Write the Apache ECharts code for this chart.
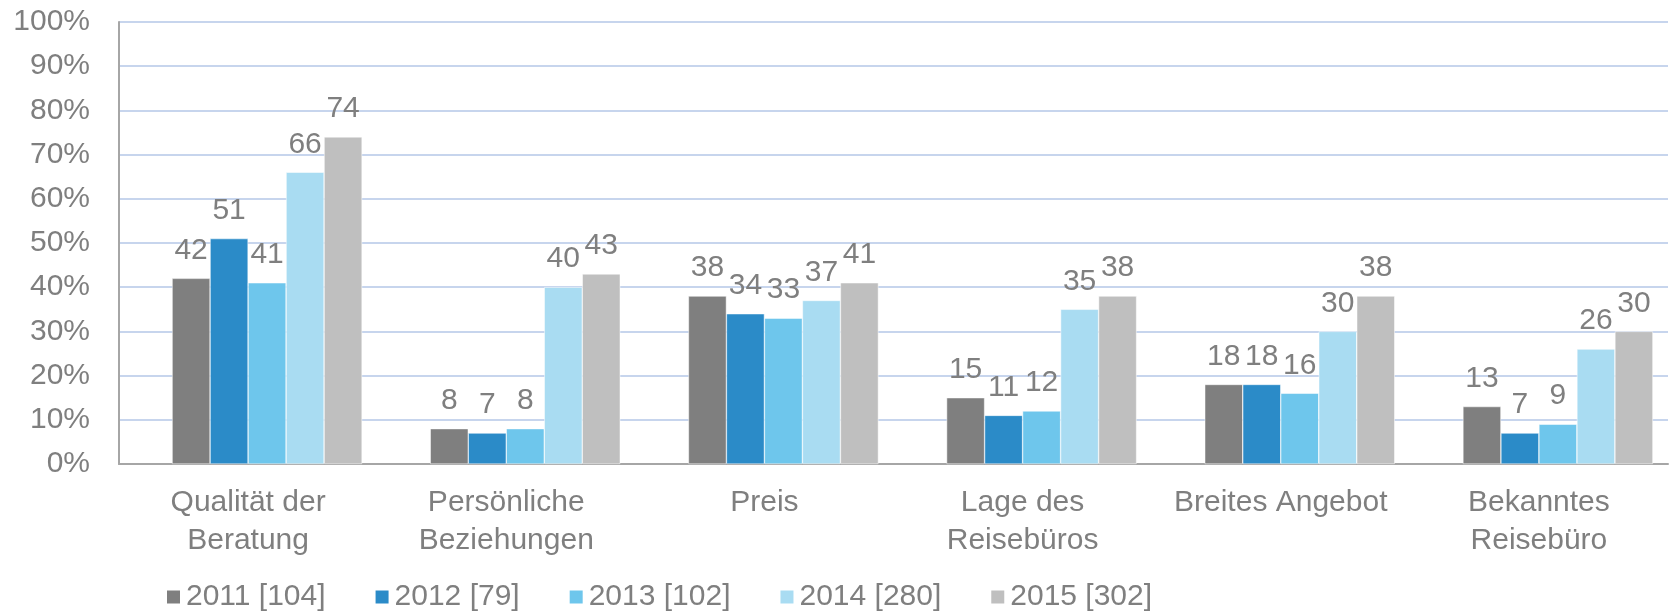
<!DOCTYPE html>
<html lang="de">
<head>
<meta charset="utf-8" />
<title>Gründe Reisebüro</title>
<script src="https://cdn.jsdelivr.net/npm/echarts@6/dist/echarts.min.js"></script>
<style>
  html, body { margin: 0; padding: 0; background: #fff; }
  #main { width: 1671px; height: 612px; }
</style>
</head>
<body>
<div id="main"></div>
<script>
  const categories = ['Qualität der\nBeratung', 'Persönliche\nBeziehungen', 'Preis', 'Lage des\nReisebüros', 'Breites Angebot', 'Bekanntes\nReisebüro'];
  const seriesNames = ['2011 [104]', '2012 [79]', '2013 [102]', '2014 [280]', '2015 [302]'];
  const v2011 = [42, 8, 38, 15, 18, 13];
  const v2012 = [51, 7, 34, 11, 18, 7];
  const v2013 = [41, 8, 33, 12, 16, 9];
  const v2014 = [66, 40, 37, 35, 30, 26];
  const v2015 = [74, 43, 41, 38, 38, 30];
  const colors = ['#7f7f7f', '#2b8bc8', '#6ec6ec', '#a9dcf2', '#bfbfbf'];

  const allValues = [v2011, v2012, v2013, v2014, v2015];
  const font = "'Liberation Sans', Arial, sans-serif";
  const grey = '#7f7f7f';

  // the original chart leaves an empty slot before the first year in every group
  const spacer = { name: 'spacer', type: 'bar', data: [], barWidth: 38, barGap: '0%', silent: true };

  let chart = echarts.init(document.getElementById('main'));
  let option = {
    animation: false,
    color: ['#ffffff'].concat(colors),
    textStyle: { fontFamily: font },
    grid: { left: 119, right: 3, top: 22, bottom: 148 },
    legend: {
      left: 160,
      top: 577,
      itemWidth: 15,
      itemHeight: 15,
      itemGap: 48,
      icon: 'rect',
      textStyle: { fontSize: 30, color: grey, fontFamily: font },
      data: seriesNames
    },
    xAxis: {
      type: 'category',
      data: categories,
      axisLine: { lineStyle: { color: '#a6a6a6', width: 2 } },
      axisTick: { show: false },
      axisLabel: { fontSize: 30, color: grey, lineHeight: 38, margin: 20, interval: 0 }
    },
    yAxis: {
      type: 'value',
      min: 0,
      max: 100,
      interval: 10,
      axisLine: { show: true, lineStyle: { color: '#a6a6a6', width: 2 } },
      axisTick: { show: false },
      axisLabel: { fontSize: 30, color: grey, margin: 29, formatter: '{value}%' },
      splitLine: { lineStyle: { color: '#b4c7e7', width: 1.5 } }
    },
    series: [spacer].concat(allValues.map((vals, i) => ({
      name: seriesNames[i],
      type: 'bar',
      data: vals,
      barWidth: 38,
      barGap: '0%',
      itemStyle: { borderColor: '#ffffff', borderWidth: 0.5 },
      label: { show: true, position: 'top', distance: 13, fontSize: 30, color: grey }
    })))
  };
  chart.setOption(option);
</script>
</body>
</html>
